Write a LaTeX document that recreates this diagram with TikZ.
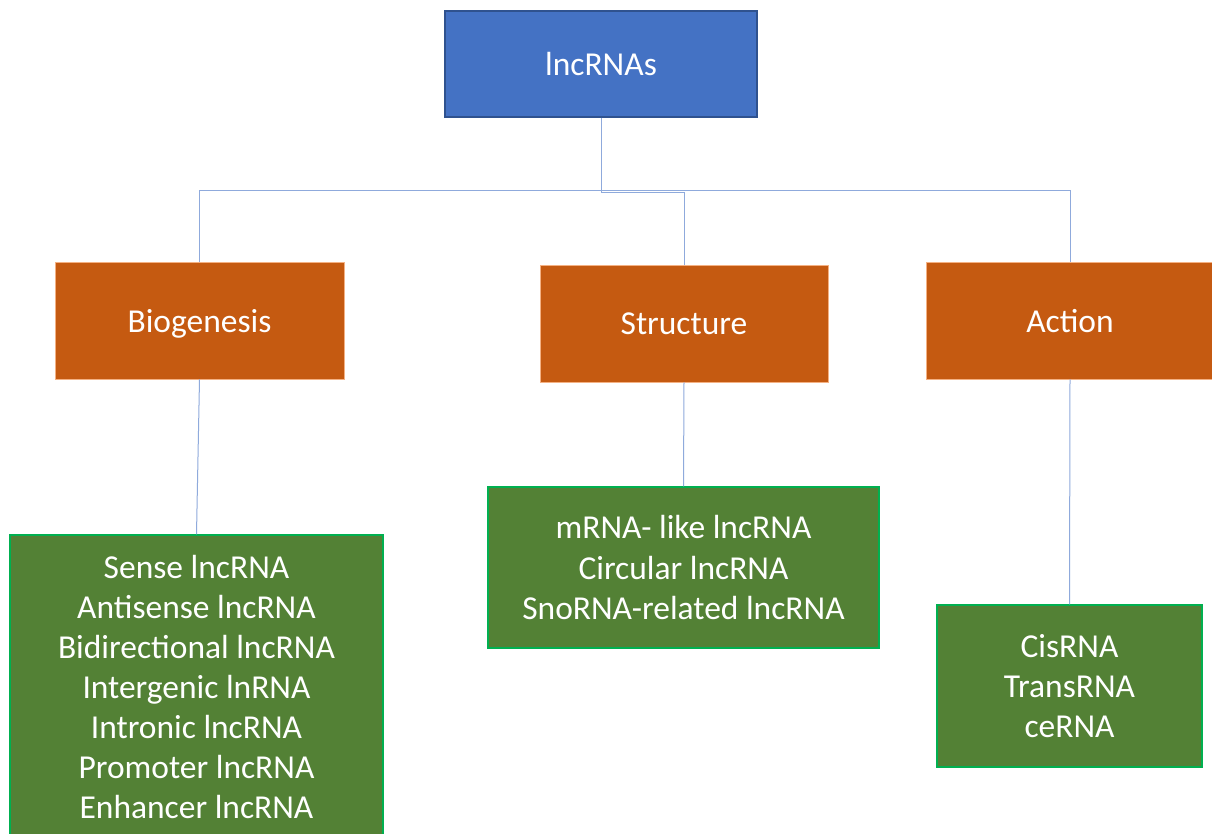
\documentclass[tikz,border=0pt]{standalone}
\usepackage{fontspec}
\setmainfont{Carlito}
\usepackage{xcolor}
\definecolor{rootblue}{HTML}{4472C4}
\definecolor{rootedge}{HTML}{2F528F}
\definecolor{catorange}{HTML}{C55A11}
\definecolor{catedge}{HTML}{F4B183}
\definecolor{listgreen}{HTML}{538135}
\definecolor{listedge}{HTML}{00B050}
\definecolor{linkblue}{HTML}{8FAADC}
\newcommand{\boxfont}{\fontsize{33.6}{40.3}\selectfont}
\usepackage{tikz}
\usetikzlibrary{positioning}
\tikzset{
  every picture/.style = {
    x = 1bp,
    y = -1bp,
  }
  ,
  box/.style = {
    rectangle,
    inner sep = 0pt,
    text = white,
    font = \boxfont,
    align = center
  }
  , % top node
  root/.style = {
    box,
    fill = rootblue,
    draw = rootedge,
    line width = 1.5bp,
    minimum width = 312bp,
    minimum height = 106bp
  }
  , % second level
  category/.style = {
    box,
    fill = catorange,
    draw = catedge,
    line width = 0.6bp,
    minimum width = 289bp,
    minimum height = 117bp,
    text depth = 0pt
  }
  , % lists of kinds
  members/.style = {
    box,
    fill = listgreen,
    draw = listedge,
    line width = 1.2bp
  }
  ,
  link/.style = {
    draw = linkblue,
    line width = 1bp
  }
}
\begin{document}
\begin{tikzpicture}
    \clip (0,0) rectangle (1212,834);
    \fill [white] (0,0) rectangle (1212,834);
    \node [root, text depth = 0pt] (lnc) at (601,64) {lncRNAs};
    \node [category] (bio) at (199.5,320.5) {Biogenesis};
    \node [category, minimum width = 288bp] (struct) at (684,323.5) {Structure};
    \node [category, minimum width = 288bp] (act) at (1070,320.5) {Action};
    \node [members, minimum width = 373bp, minimum height = 304bp] (biolist) at (196.5,687)
      {Sense lncRNA\\Antisense lncRNA\\Bidirectional lncRNA\\Intergenic lnRNA\\Intronic lncRNA\\Promoter lncRNA\\Enhancer lncRNA};
    \node [members, minimum width = 391bp, minimum height = 161bp] (structlist) at (683.5,567.5)
      {mRNA- like lncRNA\\Circular lncRNA\\SnoRNA-related lncRNA};
    \node [members, minimum width = 265bp, minimum height = 162bp] (actlist) at (1069.5,686)
      {CisRNA\\TransRNA\\ceRNA};
    \draw [link] (lnc.south) -- ++(0,73) -| (bio.north);
    \draw [link] (lnc.south) -- ++(0,73) -| (act.north);
    \draw [link] (lnc.south) -- ++(0,75) -| (struct.north);
    \draw [link] (bio.south) -- (biolist.north);
    \draw [link] (struct.south) -- (structlist.north);
    \draw [link] (act.south) -- (actlist.north);
\end{tikzpicture}
\end{document}
